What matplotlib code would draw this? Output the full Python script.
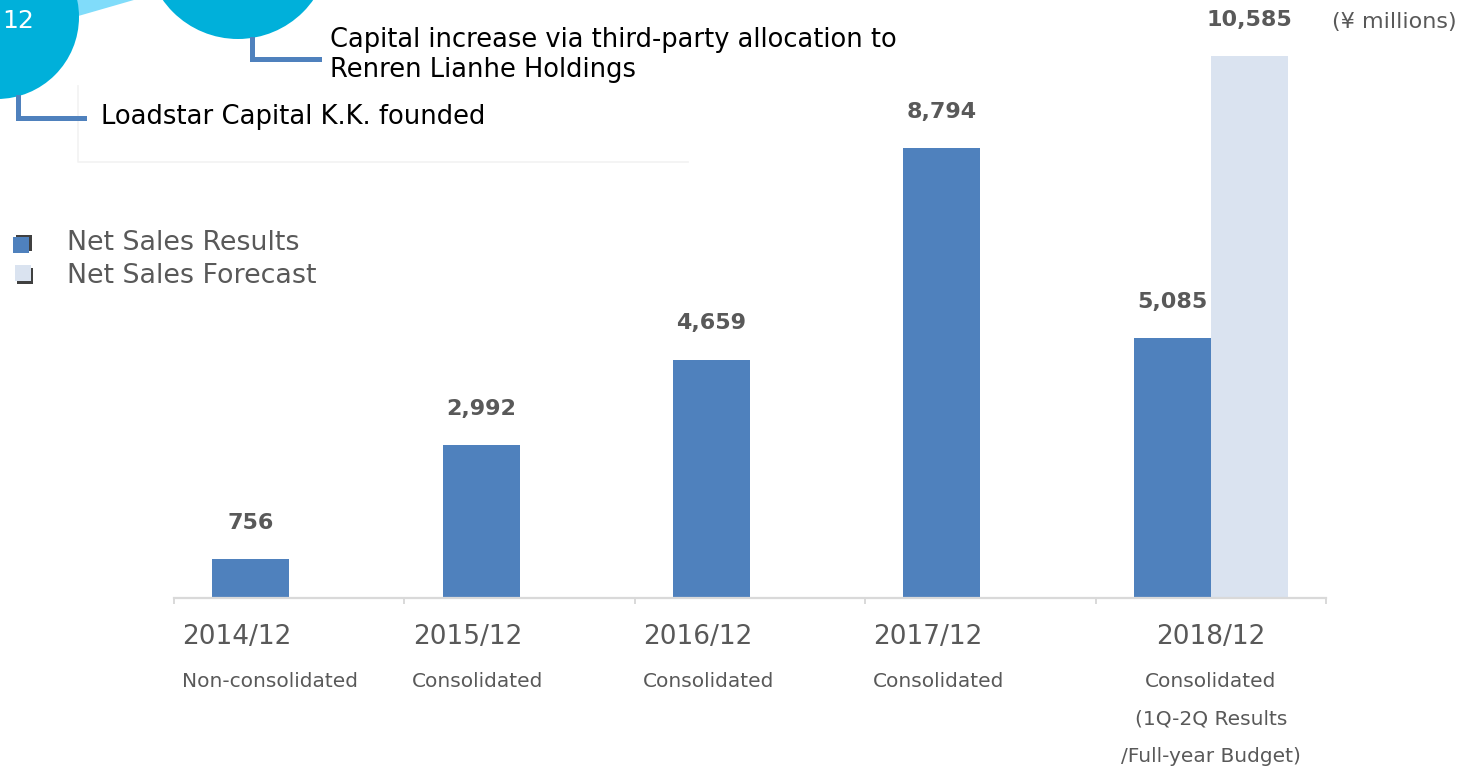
import numpy as np
import matplotlib
matplotlib.use("Agg")
import matplotlib.pyplot as plt
from matplotlib.patches import Circle, Polygon, Rectangle

# data
years = ["2014/12", "2015/12", "2016/12", "2017/12", "2018/12"]
scopes = ["Non-consolidated", "Consolidated", "Consolidated", "Consolidated",
          "Consolidated\n(1Q-2Q Results\n/Full-year Budget)"]
results = [756, 2992, 4659, 8794, 5085]
forecast = [None, None, None, None, 10585]

blue = "#4f81bd"
light = "#dae3f0"
gray = "#595959"
W, H = 1463, 768

plt.rcParams['font.family'] = ['DejaVu Sans']
fig = plt.figure(figsize=(W / 100, H / 100), dpi=100)

# decoration layer in pixel coords
deco = fig.add_axes([0, 0, 1, 1], zorder=0)
deco.set_xlim(0, W)
deco.set_ylim(H, 0)
deco.axis("off")

deco.add_patch(Polygon([(-5, -6), (238, -76), (238, -30), (-5, 40)],
                       closed=True, color="#80dcfa", lw=0))
deco.add_patch(Circle((-3, 17), 82, color="#00b0da", lw=0))
deco.add_patch(Circle((238, -53), 92, color="#00b0da", lw=0))
deco.text(2, 21, "12", color="white", fontsize=18, ha="left", va="center")

# faint panel behind the first note
deco.plot([78, 78, 688], [86, 162, 162], color="#f2f2f2", lw=1.2)
deco.plot([18, 18, 84], [97, 118, 118], color=blue, lw=3.6,
          solid_joinstyle="miter")
deco.plot([252, 252, 319], [39, 59, 59], color=blue, lw=3.6,
          solid_joinstyle="miter")
deco.text(101, 117, "Loadstar Capital K.K. founded", fontsize=18.6,
          color="black", va="center")
deco.text(330, 40, "Capital increase via third-party allocation to",
          fontsize=18.5, color="black", va="center")
deco.text(330, 70, "Renren Lianhe Holdings", fontsize=18.5,
          color="black", va="center")

# legend
deco.add_patch(Rectangle((16, 235), 16, 16, color="#404040", lw=0))
deco.add_patch(Rectangle((13, 237), 16, 16, color=blue, lw=0))
deco.add_patch(Rectangle((17, 268), 16, 16, color="#404040", lw=0))
deco.add_patch(Rectangle((15, 265), 16, 16, color=light, lw=0))
deco.text(67, 243, "Net Sales Results", fontsize=19.4, color=gray, va="center")
deco.text(67, 276, "Net Sales Forecast", fontsize=19.4, color=gray, va="center")

deco.text(1457, 22, "(¥ millions)", fontsize=16, color=gray,
          ha="right", va="center")

# main chart
scale = (598 - 148) / 8794
ymax = 11500
ax = fig.add_axes([174 / W, 170 / H, 1152 / W, ymax * scale / H], zorder=1)
ax.patch.set_alpha(0)
w = 77 / 230.4
x = np.arange(len(years))

ax.bar(x - w / 2, results, width=w, color=blue)
fx = [i for i, v in enumerate(forecast) if v is not None]
fv = [forecast[i] for i in fx]
ax.bar(np.array(fx) + w / 2, fv, width=w, color=light)

for xi, v in zip(x - w / 2, results):
    ax.annotate(f"{v:,}", (xi, v), xytext=(0, 26), textcoords="offset points",
                ha="center", va="center", fontsize=16, fontweight="bold",
                color=gray)
for xi, v in zip(np.array(fx) + w / 2, fv):
    ax.annotate(f"{v:,}", (xi, v), xytext=(0, 26), textcoords="offset points",
                ha="center", va="center", fontsize=16, fontweight="bold",
                color=gray)

ax.set_xlim(-0.5, len(years) - 0.5)
ax.set_ylim(0, ymax)
for s in ["top", "right", "left"]:
    ax.spines[s].set_visible(False)
ax.spines["bottom"].set_color("#d9d9d9")
ax.spines["bottom"].set_linewidth(1.6)
ax.set_yticks([])
ax.set_xticks(np.arange(len(years) + 1) - 0.5)
ax.set_xticklabels([])
ax.tick_params(axis="x", direction="out", length=4.5, width=1.4,
               color="#d9d9d9")

# category labels
for i, (yr, sc) in enumerate(zip(years, scopes)):
    lines = sc.split("\n")
    if i < len(years) - 1:
        ax.annotate(yr, (i - 0.5, 0), xycoords=("data", "axes fraction"),
                    xytext=(6, -28.1), textcoords="offset points",
                    ha="left", va="center", fontsize=19, color=gray)
        ax.annotate(lines[0], (i - 0.5, 0), xycoords=("data", "axes fraction"),
                    xytext=(5.5, -59.8), textcoords="offset points",
                    ha="left", va="center", fontsize=14.5, color=gray)
    else:
        ax.annotate(yr, (i, 0), xycoords=("data", "axes fraction"),
                    xytext=(0, -28.1), textcoords="offset points",
                    ha="center", va="center", fontsize=19, color=gray)
        for ln, off in zip(lines, [-59.8, -87.1, -113.8]):
            ax.annotate(ln, (i, 0), xycoords=("data", "axes fraction"),
                        xytext=(0, off), textcoords="offset points",
                        ha="center", va="center", fontsize=14.5, color=gray)

fig.savefig("out.png", dpi=100)
